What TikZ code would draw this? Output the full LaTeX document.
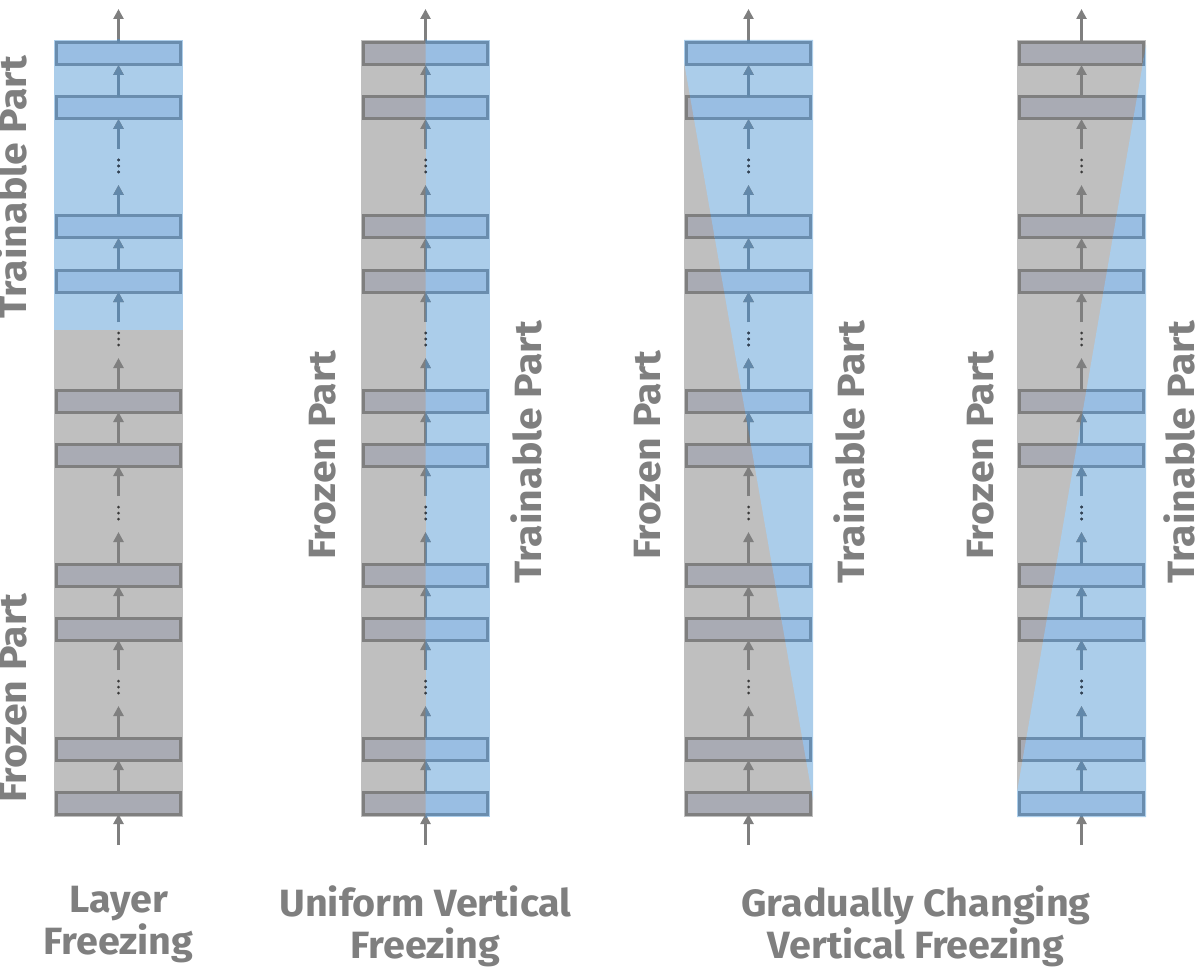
\documentclass[tikz,border=0pt]{standalone}
\usepackage{fontspec}
\setmainfont{Fira Sans}
\newfontfamily\capfont{Fira Sans}[FakeStretch=1.04]
\newfontfamily\sidefont{Fira Sans}[FakeStretch=1.08]
\usetikzlibrary{arrows.meta}
\definecolor{graybg}{HTML}{BFBFBF}
\definecolor{bluebg}{HTML}{ABCDEA}
\definecolor{grayfill}{HTML}{A9ABB4}
\definecolor{grayline}{HTML}{7F7F7F}
\definecolor{bluefill}{HTML}{99BEE3}
\definecolor{blueline}{HTML}{6A8DAE}
\definecolor{bluearrow}{HTML}{6288AA}
\definecolor{dotgray}{HTML}{3A3A3A}
\definecolor{dotblue}{HTML}{2F4258}
\definecolor{txtgray}{HTML}{7F7F7F}
\tikzset{
  sidelbl/.style={text=txtgray, font=\sidefont\fontsize{38}{44}\selectfont\bfseries, inner sep=0pt, outer sep=0pt, rotate=90, anchor=base},
  caplbl/.style={text=txtgray, font=\capfont\fontsize{38}{42}\selectfont\bfseries, inner sep=0pt, outer sep=0pt, align=center, anchor=north},
  layergray/.style={draw=grayline, fill=grayfill, line width=3pt, minimum width=124pt, minimum height=22pt, inner sep=0pt, outer sep=0pt},
  layerblue/.style={draw=blueline, fill=bluefill, line width=3pt, minimum width=124pt, minimum height=22pt, inner sep=0pt, outer sep=0pt},
  flowgray/.style={draw=grayline, line width=3pt, -{Triangle[length=10pt,width=10pt]}},
  flowblue/.style={draw=bluearrow, line width=3pt, -{Triangle[length=10pt,width=10pt]}},
  dotsgray/.style={fill=dotgray},
  dotsblue/.style={fill=dotblue},
}
% #1 prefix, #2 x centre, #3 gray or blue
\newcommand\drawstack[3]{%
  \foreach \i/\yc in {1/54,2/108,3/227,4/281,5/401,6/455,7/575,8/629,9/749,10/803}
    \node[layer#3] (#1b\i) at (#2,\yc) {};
  \coordinate (#1in) at (#2,845);
  \coordinate (#1out) at (#2,9);
  \foreach \k/\t in {1/120,2/293,3/467,4/641}{
    \coordinate (#1ga\k) at (#2,\t+29);
    \coordinate (#1gb\k) at (#2,\t+65);
    \foreach \d in {40,46,52} \fill[dots#3] (#2,\t+\d) circle (1.5pt);
  }
  \draw[flow#3] (#1in) -- (#1b10);
  \draw[flow#3] (#1b10) -- (#1b9);
  \draw[flow#3] (#1b9) -- (#1gb4);
  \draw[flow#3] (#1ga4) -- (#1b8);
  \draw[flow#3] (#1b8) -- (#1b7);
  \draw[flow#3] (#1b7) -- (#1gb3);
  \draw[flow#3] (#1ga3) -- (#1b6);
  \draw[flow#3] (#1b6) -- (#1b5);
  \draw[flow#3] (#1b5) -- (#1gb2);
  \draw[flow#3] (#1ga2) -- (#1b4);
  \draw[flow#3] (#1b4) -- (#1b3);
  \draw[flow#3] (#1b3) -- (#1gb1);
  \draw[flow#3] (#1ga1) -- (#1b2);
  \draw[flow#3] (#1b2) -- (#1b1);
  \draw[flow#3] (#1b1) -- (#1out);
}
\begin{document}
\begin{tikzpicture}[x=1pt,y=-1pt]
\useasboundingbox (0,0) rectangle (1198,968);
% backgrounds
\foreach \cx in {118.5,425.5,748.5,1081.5}
  \fill[graybg] (\cx-64.5,40) rectangle (\cx+64.5,817);
\fill[bluebg] (54,40) rectangle (183,330);
\fill[bluebg] (425.5,40) rectangle (490,817);
\fill[bluebg] (684,40) -- (813,40) -- (813,800) -- (684,62) -- cycle;
\fill[bluebg] (1017,817) -- (1146,817) -- (1146,45) -- (1017,792) -- cycle;
% gray stacks
\drawstack{a}{118.5}{gray}
\drawstack{b}{425.5}{gray}
\drawstack{c}{748.5}{gray}
\drawstack{d}{1081.5}{gray}
% blue (trainable) parts
\begin{scope}
  \clip (54,40) rectangle (183,330);
  \drawstack{a}{118.5}{blue}
\end{scope}
\begin{scope}
  \clip (425.5,40) rectangle (490,817);
  \drawstack{b}{425.5}{blue}
\end{scope}
\begin{scope}
  \clip (684,40) -- (813,40) -- (813,800) -- (684,62) -- cycle;
  \drawstack{c}{748.5}{blue}
\end{scope}
\begin{scope}
  \clip (1017,817) -- (1146,817) -- (1146,45) -- (1017,792) -- cycle;
  \drawstack{d}{1081.5}{blue}
\end{scope}
% side labels
\node[sidelbl] (aT) at (27,187) {Trainable Part};
\node[sidelbl] (aF) at (27,698) {Frozen Part};
\node[sidelbl] (bF) at (335,455) {Frozen Part};
\node[sidelbl] (bT) at (541,452) {Trainable Part};
\node[sidelbl] (cF) at (660,455) {Frozen Part};
\node[sidelbl] (cT) at (864,452) {Trainable Part};
\node[sidelbl] (dF) at (993,455) {Frozen Part};
\node[sidelbl] (dT) at (1194.5,452) {Trainable Part};
% captions
\node[caplbl] (capA) at (118.5,886) {Layer\\Freezing};
\node[caplbl] (capB) at (425.5,886) {Uniform Vertical\\Freezing};
\node[caplbl] (capC) at (916,886) {Gradually Changing\\Vertical Freezing};
\end{tikzpicture}
\end{document}
